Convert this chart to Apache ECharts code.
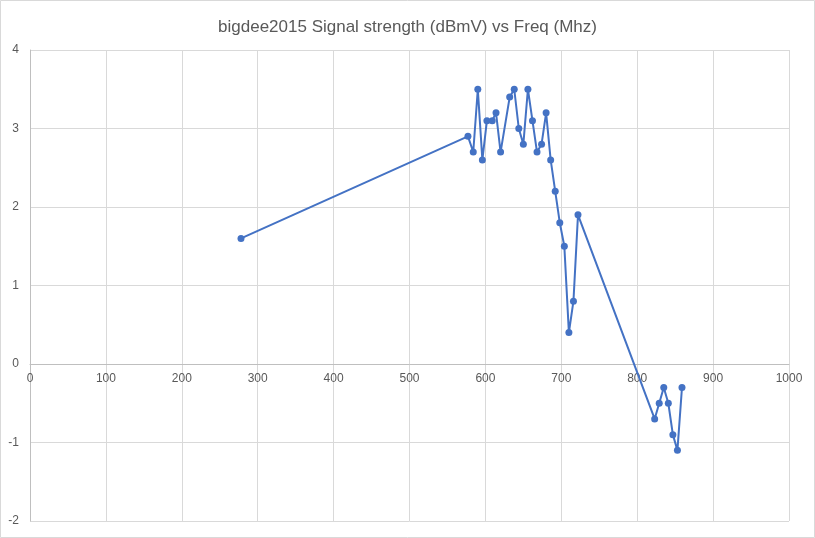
<!DOCTYPE html>
<html>
<head>
<meta charset="utf-8">
<script src="https://cdn.jsdelivr.net/npm/echarts@6/dist/echarts.min.js"></script>
<style>
html,body{margin:0;padding:0;background:#fff;}
#chart{width:815px;height:538px;}
</style>
</head>
<body>
<div id="chart"></div>
<script>
const titleText = 'bigdee2015 Signal strength (dBmV) vs Freq (Mhz)';
const freqMhz = [278, 577, 584, 590, 596, 602, 609, 614, 620, 632, 638, 644, 650, 656, 662, 668, 674, 680, 686, 692, 698, 704, 710, 716, 722, 823, 829, 835, 841, 847, 853, 859];
const signalDbmv = [1.6, 2.9, 2.7, 3.5, 2.6, 3.1, 3.1, 3.2, 2.7, 3.4, 3.5, 3.0, 2.8, 3.5, 3.1, 2.7, 2.8, 3.2, 2.6, 2.2, 1.8, 1.5, 0.4, 0.8, 1.9, -0.7, -0.5, -0.3, -0.5, -0.9, -1.1, -0.3];
const xTicks = {min: 0, max: 1000, interval: 100};
const yTicks = {min: -2, max: 4, interval: 1};

const gridTop = 50, gridBottom = 17, chartH = 538;
const plotH = chartH - gridTop - gridBottom;
const zeroOffset = plotH * (0 - yTicks.min) / (yTicks.max - yTicks.min);

const chart = echarts.init(document.getElementById('chart'), null, {renderer: 'canvas'});
const labelFont = {color: '#595959', fontSize: 12, fontFamily: 'Liberation Sans, Arial, sans-serif'};
chart.setOption({
  animation: false,
  backgroundColor: '#ffffff',
  title: {
    text: titleText,
    left: 'center',
    top: 14,
    textStyle: {color: '#595959', fontSize: 17, fontWeight: 'normal', fontFamily: 'Liberation Sans Narrow, Liberation Sans, Arial, sans-serif'}
  },
  graphic: [{
    type: 'rect',
    shape: {x: 0.5, y: 0.5, width: 814, height: 537},
    style: {fill: 'none', stroke: '#d9d9d9', lineWidth: 1},
    silent: true
  }],
  grid: {left: 30, right: 26, top: gridTop, bottom: gridBottom, containLabel: false},
  xAxis: {
    type: 'value',
    min: xTicks.min, max: xTicks.max, interval: xTicks.interval,
    position: 'bottom',
    offset: -zeroOffset,
    axisLine: {show: true, onZero: false, lineStyle: {color: '#bfbfbf', width: 1}},
    axisTick: {show: false},
    axisLabel: Object.assign({margin: 9, formatter: v => String(v)}, labelFont),
    splitLine: {show: true, lineStyle: {color: '#d9d9d9', width: 1}}
  },
  yAxis: {
    type: 'value',
    min: yTicks.min, max: yTicks.max, interval: yTicks.interval,
    axisLine: {show: true, lineStyle: {color: '#bfbfbf', width: 1}},
    axisTick: {show: false},
    axisLabel: Object.assign({margin: 11}, labelFont),
    splitLine: {show: true, lineStyle: {color: '#d9d9d9', width: 1}}
  },
  series: [{
    type: 'line',
    data: freqMhz.map((f, i) => [f, signalDbmv[i]]),
    symbol: 'circle',
    symbolSize: 7,
    showAllSymbol: true,
    lineStyle: {color: '#4472C4', width: 2},
    itemStyle: {color: '#4472C4'},
    z: 3
  }]
});
</script>
</body>
</html>
